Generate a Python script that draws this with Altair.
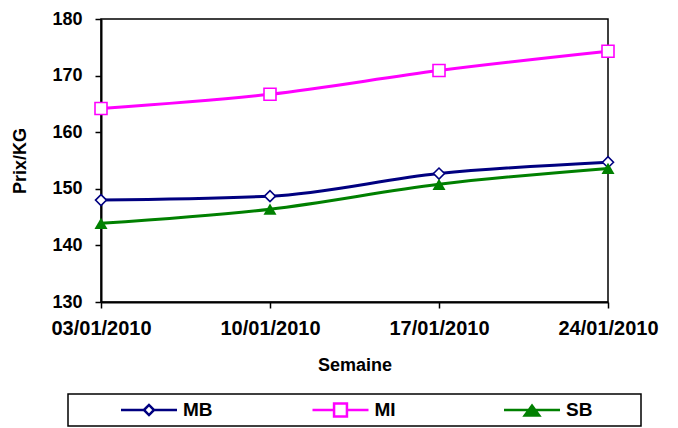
import altair as alt
import pandas as pd

weeks = ["03/01/2010", "10/01/2010", "17/01/2010", "24/01/2010"]
mb = [148.0, 148.7, 152.7, 154.7]
mi = [164.2, 166.7, 170.9, 174.3]
sb = [143.9, 146.4, 150.8, 153.6]

series_names = ["MB", "MI", "SB"]
series_colors = ["#000080", "#FF00FF", "#008000"]
fill_colors = ["#FFFFFF", "#FFFFFF", "#008000"]
marker_shapes = ["diamond", "square", "triangle-up"]
marker_sizes = [121, 144, 170]
marker_filled = [False, False, True]
legend_paths = [
    "M-1,0H-0.18M0.18,0H1M-0.18,0L0,-0.18L0.18,0L0,0.18Z",
    "M-1,0H-0.23M0.23,0H1M-0.23,-0.23H0.23V0.23H-0.23Z",
    "M-1,0H1M-0.26,0.2L0,-0.16L0.26,0.2Z",
]
y_ticks = [130, 140, 150, 160, 170, 180]

rows = []
for name, vals in zip(series_names, [mb, mi, sb]):
    for w, v in zip(weeks, vals):
        rows.append({"Semaine": w, "Prix": v, "Serie": name})
df = pd.DataFrame(rows)
legend_df = pd.DataFrame({"Serie": series_names})

FONT = "Liberation Sans"

x = alt.X(
    "Semaine:N",
    sort=weeks,
    scale=alt.Scale(type="point", padding=0),
    axis=alt.Axis(
        title="Semaine",
        labelAngle=0,
        labelFontSize=20,
        labelFontWeight="bold",
        labelPadding=10,
        tickSize=6,
        titleFontSize=18,
        titleFontWeight="bold",
        titlePadding=18,
        labelOverlap=False,
    ),
)
y = alt.Y(
    "Prix:Q",
    scale=alt.Scale(domain=[130, 180], nice=False, zero=False),
    axis=alt.Axis(
        title="Prix/KG",
        values=y_ticks,
        grid=False,
        labelFontSize=18,
        labelFontWeight="bold",
        labelPadding=13,
        tickSize=6,
        titleFontSize=18,
        titleFontWeight="bold",
        titlePadding=22,
    ),
)

base = alt.Chart(df)

lines = base.mark_line(strokeWidth=3, interpolate="monotone").encode(
    x=x,
    y=y,
    stroke=alt.Stroke("Serie:N", scale=alt.Scale(domain=series_names, range=series_colors), legend=None),
)

marker_layers = []
for name, col, shp, sz, filled in zip(series_names, series_colors, marker_shapes, marker_sizes, marker_filled):
    kw = dict(shape=shp, size=sz, filled=filled, strokeWidth=1.6, opacity=1, color=col)
    if not filled:
        kw["fill"] = "white"
    marker_layers.append(
        base.transform_filter(alt.datum.Serie == name).mark_point(**kw).encode(x=x, y=y)
    )

main = alt.layer(lines, *marker_layers).properties(width=507, height=283)

# legend panel, built from the series list through its own point scale
lx = alt.X(
    "Serie:N",
    sort=series_names,
    scale=alt.Scale(type="point", domain=series_names, padding=0.496),
    axis=None,
)
leg_symbols = alt.Chart(legend_df).mark_point(
    size=3136, strokeWidth=2.5, filled=False, opacity=1, xOffset=-14
).encode(
    x=lx,
    color=alt.Color("Serie:N", scale=alt.Scale(domain=series_names, range=series_colors), legend=None),
    shape=alt.Shape("Serie:N", scale=alt.Scale(domain=series_names, range=legend_paths), legend=None),
    fill=alt.Fill("Serie:N", scale=alt.Scale(domain=series_names, range=fill_colors), legend=None),
)
leg_text = alt.Chart(legend_df).mark_text(
    align="left",
    baseline="middle",
    dx=20,
    font=FONT,
    fontSize=19,
    fontWeight="bold",
    color="black",
).encode(x=lx, text="Serie:N")

legend_panel = alt.layer(leg_symbols, leg_text).properties(width=573, height=32)

chart = (
    alt.vconcat(main, legend_panel, center=True, spacing=92, bounds="flush")
    .properties(
        padding={"left": 3, "top": 1, "right": 0, "bottom": 0},
        background="white",
    )
    .configure_view(stroke="black", strokeWidth=1.5)
    .configure_axis(
        domainColor="black",
        domainWidth=2,
        tickColor="black",
        tickWidth=1.5,
        labelColor="black",
        titleColor="black",
        labelFont=FONT,
        titleFont=FONT,
    )
)

chart.save("out.html", embed_options={"renderer": "svg", "actions": False})
